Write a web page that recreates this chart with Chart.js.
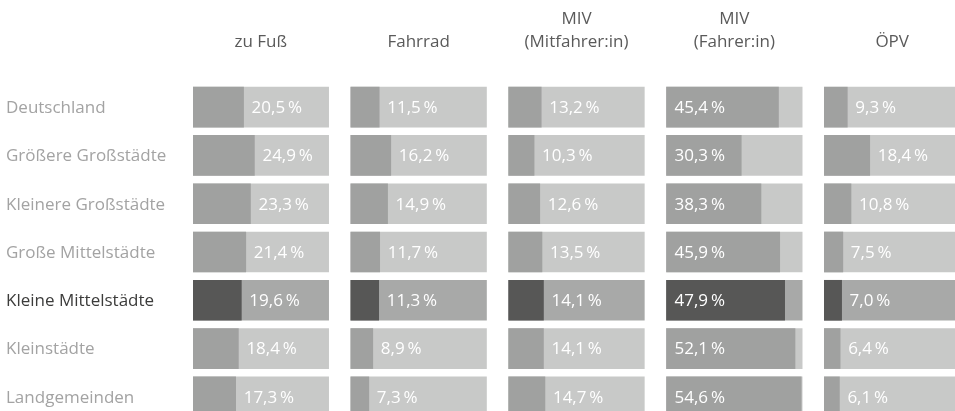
<!DOCTYPE html>
<html>
<head>
<meta charset="utf-8">
<script src="https://cdn.jsdelivr.net/npm/chart.js@4/dist/chart.umd.min.js"></script>
<style>
  html, body { margin: 0; padding: 0; background: #fff; overflow: hidden; width: 955px; height: 411px; }
  #wrap { position: absolute; left: 0; top: 0; width: 962px; height: 421px; }
</style>
</head>
<body>
<div id="wrap"><canvas id="c" width="962" height="421"></canvas></div>
<script>
// Regions (rows) and modes of transport (panels)
const regions = ['Deutschland', 'Größere Großstädte', 'Kleinere Großstädte', 'Große Mittelstädte',
                 'Kleine Mittelstädte', 'Kleinstädte', 'Landgemeinden'];
const modeTitles = [['zu Fuß'], ['Fahrrad'], ['MIV', '(Mitfahrer:in)'], ['MIV', '(Fahrer:in)'], ['ÖPV']];

// Modal split in percent, one array per mode
const zuFuss   = [20.5, 24.9, 23.3, 21.4, 19.6, 18.4, 17.3];
const fahrrad  = [11.5, 16.2, 14.9, 11.7, 11.3, 8.9, 7.3];
const mivMit   = [13.2, 10.3, 12.6, 13.5, 14.1, 14.1, 14.7];
const mivFahr  = [45.4, 30.3, 38.3, 45.9, 47.9, 52.1, 54.6];
const oepv     = [9.3, 18.4, 10.8, 7.5, 7.0, 6.4, 6.1];
const modeValues = [zuFuss, fahrrad, mivMit, mivFahr, oepv];

const highlightRow = 4;     // Kleine Mittelstädte
const panelMax = 55;        // percent covered by each panel's track
const panelStep = 64;       // track + gap, in percent units

const FONT = '"Open Sans", sans-serif';
const colors = {
  fg: '#a0a1a0', bg: '#c8c9c8',
  fgHi: '#575756', bgHi: '#a8a9a8',
  row: '#a3a3a3', rowHi: '#3c3c3b',
  head: '#5a5a5a', value: '#ffffff'
};

const fmt = v => v.toFixed(1).replace('.', ',') + '\u2009%';

const datasets = [];
modeValues.forEach((vals, p) => {
  const start = p * panelStep;
  datasets.push({
    label: modeTitles[p].join(' '),
    data: vals.map(v => [start, start + v]),
    backgroundColor: vals.map((_, i) => i === highlightRow ? colors.fgHi : colors.fg),
    grouped: false, barThickness: 40, order: 0, panel: p, isValue: true
  });
  datasets.push({
    label: 'track',
    data: vals.map(() => [start, start + panelMax]),
    backgroundColor: vals.map((_, i) => i === highlightRow ? colors.bgHi : colors.bg),
    grouped: false, barThickness: 40, order: 1, panel: p, isValue: false
  });
});

const textPlugin = {
  id: 'texts',
  afterDatasetsDraw(chart) {
    const ctx = chart.ctx;
    const xs = chart.scales.x, ys = chart.scales.y;
    ctx.save();
    ctx.textBaseline = 'middle';

    // value labels: after the bar, or inside it when the track is too short
    ctx.font = '17px ' + FONT;
    ctx.fillStyle = colors.value;
    ctx.textAlign = 'left';
    chart.data.datasets.forEach((ds, di) => {
      if (!ds.isValue) return;
      const meta = chart.getDatasetMeta(di);
      const trackEnd = xs.getPixelForValue(ds.panel * panelStep + panelMax);
      meta.data.forEach((el, i) => {
        const txt = fmt(modeValues[ds.panel][i]);
        const w = ctx.measureText(txt).width;
        let x = el.x + 8;
        if (x + w > trackEnd - 8) x = el.base + 8;
        ctx.fillText(txt, x, el.y + 1);
      });
    });

    // row labels
    ctx.font = '17px ' + FONT;
    regions.forEach((r, i) => {
      ctx.fillStyle = i === highlightRow ? colors.rowHi : colors.row;
      ctx.fillText(r, 6, ys.getPixelForValue(i) + 1);
    });

    // panel headings
    ctx.textAlign = 'center';
    ctx.fillStyle = colors.head;
    modeTitles.forEach((lines, p) => {
      const cx = xs.getPixelForValue(p * panelStep + panelMax / 2);
      const lh = 23;
      lines.forEach((t, k) => {
        const y = 42 - (lines.length - 1 - k) * lh;
        ctx.fillText(t, cx, y);
      });
    });
    ctx.restore();
  }
};

new Chart(document.getElementById('c'), {
  type: 'bar',
  data: { labels: regions, datasets },
  options: {
    indexAxis: 'y',
    responsive: false,
    animation: false,
    devicePixelRatio: 1,
    layout: { padding: { left: 193, top: 83, right: 2, bottom: 0 } },
    scales: {
      x: { type: 'linear', min: 0, max: 4 * panelStep + panelMax, display: false },
      y: { type: 'category', display: false }
    },
    plugins: { legend: { display: false }, tooltip: { enabled: false } }
  },
  plugins: [textPlugin]
});
</script>
</body>
</html>
